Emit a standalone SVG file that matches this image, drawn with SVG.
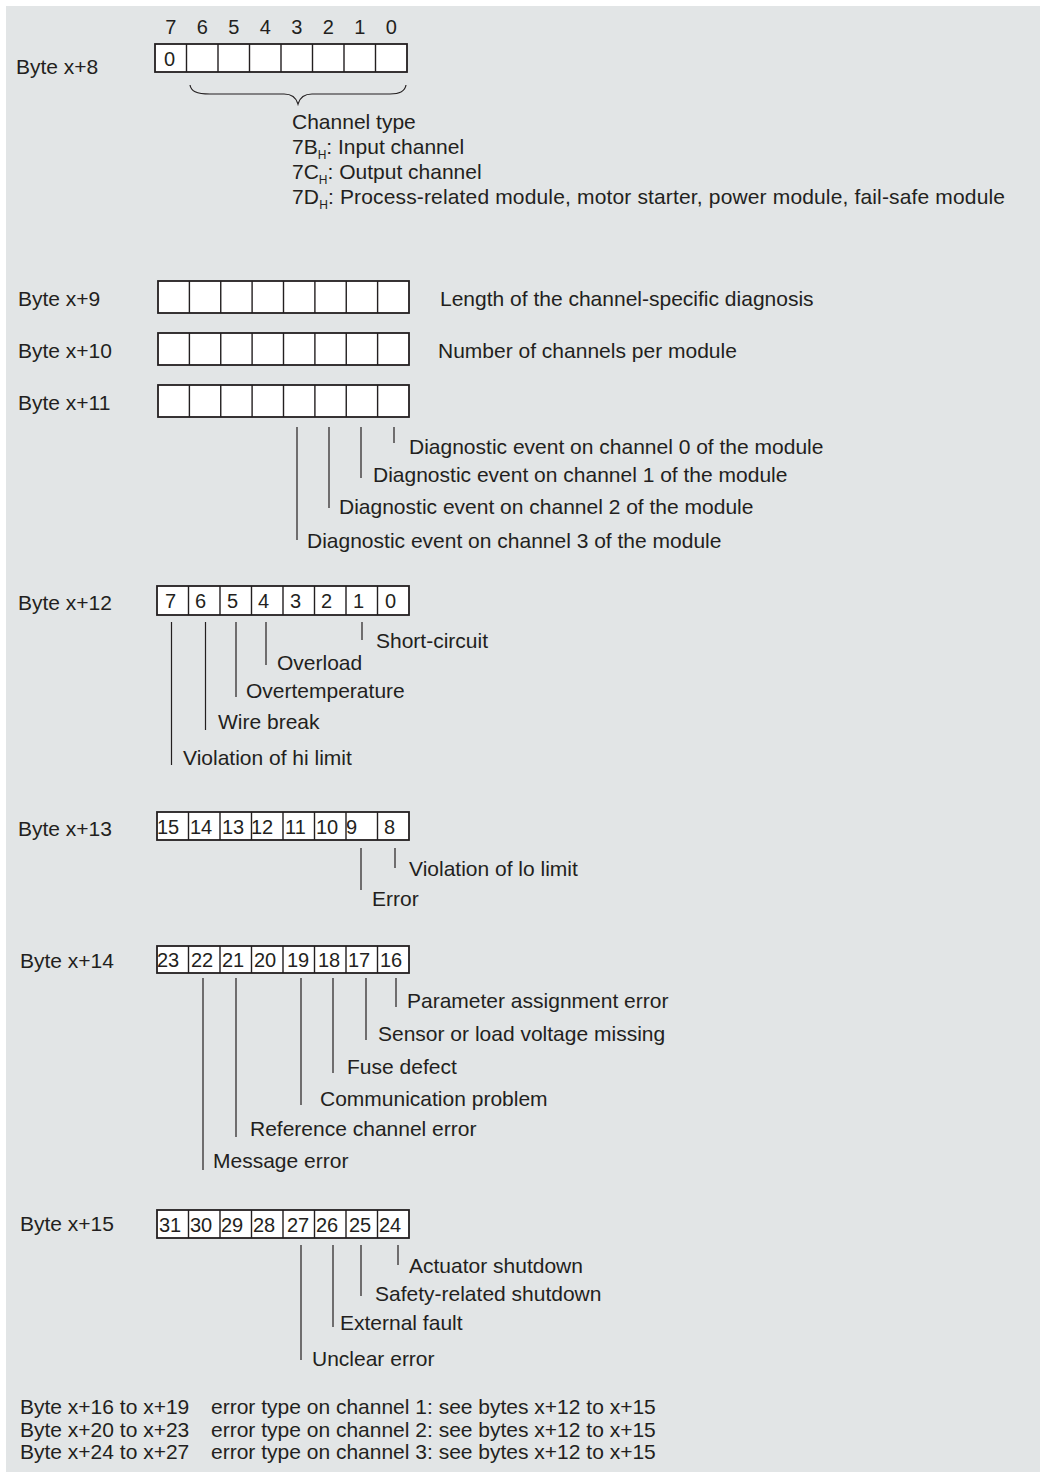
<svg xmlns="http://www.w3.org/2000/svg" width="1040" height="1472" viewBox="0 0 1040 1472">
  <style>
    text { font-family: "Liberation Sans", Arial, sans-serif; font-size: 21px; fill: #231f20; }
    .num { font-size: 20px; }
    .sub { font-size: 12px; }
    .cell { fill: #ffffff; stroke: #231f20; stroke-width: 1.8; }
    .div { fill: none; stroke: #231f20; stroke-width: 1.4; }
    .lead { fill: none; stroke: #231f20; stroke-width: 1.2; }
  </style>

  <!-- page -->
  <rect x="0" y="0" width="1040" height="1472" fill="#ffffff"/>
  <rect x="6" y="6" width="1034" height="1466" fill="#e2e5e6"/>

  <!-- Byte x+8 : channel type -->
  <g id="byte-x8">
    <text x="16" y="74">Byte x+8</text>
    <g class="num" text-anchor="middle">
      <text class="num" x="170.75" y="34">7</text>
      <text class="num" x="202.25" y="34">6</text>
      <text class="num" x="233.75" y="34">5</text>
      <text class="num" x="265.25" y="34">4</text>
      <text class="num" x="296.75" y="34">3</text>
      <text class="num" x="328.25" y="34">2</text>
      <text class="num" x="359.75" y="34">1</text>
      <text class="num" x="391.25" y="34">0</text>
    </g>
    <rect class="cell" x="155" y="44" width="252" height="28"/>
    <path class="div" d="M186.5 44v28M218 44v28M249.5 44v28M281 44v28M312.5 44v28M344 44v28M375.5 44v28"/>
    <text class="num" x="164" y="66">0</text>
    <text x="292" y="129">Channel type</text>
    <text x="292" y="154">7B<tspan class="sub" dy="5">H</tspan><tspan dy="-5">: Input channel</tspan></text>
    <text x="292" y="179">7C<tspan class="sub" dy="5">H</tspan><tspan dy="-5">: Output channel</tspan></text>
    <text x="292" y="204" textLength="713" lengthAdjust="spacing">7D<tspan class="sub" dy="5">H</tspan><tspan dy="-5">: Process-related module, motor starter, power module, fail-safe module</tspan></text>
  </g>

  <!-- Byte x+9 -->
  <g id="byte-x9">
    <text x="18" y="306">Byte x+9</text>
    <rect class="cell" x="158" y="281" width="251" height="32"/>
    <path class="div" d="M189.4 281v32M220.75 281v32M252.1 281v32M283.5 281v32M314.9 281v32M346.25 281v32M377.6 281v32"/>
    <text x="440" y="306">Length of the channel-specific diagnosis</text>
  </g>

  <!-- Byte x+10 -->
  <g id="byte-x10">
    <text x="18" y="358">Byte x+10</text>
    <rect class="cell" x="158" y="333" width="251" height="32"/>
    <path class="div" d="M189.4 333v32M220.75 333v32M252.1 333v32M283.5 333v32M314.9 333v32M346.25 333v32M377.6 333v32"/>
    <text x="438" y="358">Number of channels per module</text>
  </g>

  <!-- Byte x+11 -->
  <g id="byte-x11">
    <text x="18" y="410">Byte x+11</text>
    <rect class="cell" x="158" y="385" width="251" height="32"/>
    <path class="div" d="M189.4 385v32M220.75 385v32M252.1 385v32M283.5 385v32M314.9 385v32M346.25 385v32M377.6 385v32"/>
    <text x="409" y="454">Diagnostic event on channel 0 of the module</text>
    <text x="373" y="482">Diagnostic event on channel 1 of the module</text>
    <text x="339" y="514">Diagnostic event on channel 2 of the module</text>
    <text x="307" y="548">Diagnostic event on channel 3 of the module</text>
  </g>

  <!-- Byte x+12 -->
  <g id="byte-x12">
    <text x="18" y="610">Byte x+12</text>
    <rect class="cell" x="157" y="586" width="252" height="29"/>
    <path class="div" d="M188.5 586v29M220 586v29M251.5 586v29M283 586v29M314.5 586v29M346 586v29M377.5 586v29"/>
    <g class="num">
      <text class="num" x="165" y="608">7</text>
      <text class="num" x="195" y="608">6</text>
      <text class="num" x="227" y="608">5</text>
      <text class="num" x="258" y="608">4</text>
      <text class="num" x="290" y="608">3</text>
      <text class="num" x="321" y="608">2</text>
      <text class="num" x="353" y="608">1</text>
      <text class="num" x="385" y="608">0</text>
    </g>
    <text x="376" y="648">Short-circuit</text>
    <text x="277" y="670">Overload</text>
    <text x="246" y="698">Overtemperature</text>
    <text x="218" y="729">Wire break</text>
    <text x="183" y="765">Violation of hi limit</text>
  </g>

  <!-- Byte x+13 -->
  <g id="byte-x13">
    <text x="18" y="836">Byte x+13</text>
    <rect class="cell" x="157" y="812" width="252" height="28"/>
    <path class="div" d="M188.5 812v28M220 812v28M251.5 812v28M283 812v28M314.5 812v28M346 812v28M377.5 812v28"/>
    <g class="num">
      <text class="num" x="157" y="834">15</text>
      <text class="num" x="190" y="834">14</text>
      <text class="num" x="222" y="834">13</text>
      <text class="num" x="251" y="834">12</text>
      <text class="num" x="285" y="834">11</text>
      <text class="num" x="316" y="834">10</text>
      <text class="num" x="346" y="834">9</text>
      <text class="num" x="384" y="834">8</text>
    </g>
    <text x="409" y="876">Violation of lo limit</text>
    <text x="372" y="906">Error</text>
  </g>

  <!-- Byte x+14 -->
  <g id="byte-x14">
    <text x="20" y="968">Byte x+14</text>
    <rect class="cell" x="157" y="946" width="252" height="27"/>
    <path class="div" d="M188.5 946v27M220 946v27M251.5 946v27M283 946v27M314.5 946v27M346 946v27M377.5 946v27"/>
    <g class="num">
      <text class="num" x="157" y="967">23</text>
      <text class="num" x="191" y="967">22</text>
      <text class="num" x="222" y="967">21</text>
      <text class="num" x="254" y="967">20</text>
      <text class="num" x="287" y="967">19</text>
      <text class="num" x="318" y="967">18</text>
      <text class="num" x="348" y="967">17</text>
      <text class="num" x="380" y="967">16</text>
    </g>
    <text x="407" y="1008">Parameter assignment error</text>
    <text x="378" y="1041">Sensor or load voltage missing</text>
    <text x="347" y="1074">Fuse defect</text>
    <text x="320" y="1106">Communication problem</text>
    <text x="250" y="1136">Reference channel error</text>
    <text x="213" y="1168">Message error</text>
  </g>

  <!-- Byte x+15 -->
  <g id="byte-x15">
    <text x="20" y="1231">Byte x+15</text>
    <rect class="cell" x="157" y="1210" width="252" height="28"/>
    <path class="div" d="M188.5 1210v28M220 1210v28M251.5 1210v28M283 1210v28M314.5 1210v28M346 1210v28M377.5 1210v28"/>
    <g class="num">
      <text class="num" x="159" y="1232">31</text>
      <text class="num" x="190" y="1232">30</text>
      <text class="num" x="221" y="1232">29</text>
      <text class="num" x="253" y="1232">28</text>
      <text class="num" x="287" y="1232">27</text>
      <text class="num" x="316" y="1232">26</text>
      <text class="num" x="349" y="1232">25</text>
      <text class="num" x="379" y="1232">24</text>
    </g>
    <text x="409" y="1273">Actuator shutdown</text>
    <text x="375" y="1301">Safety-related shutdown</text>
    <text x="340" y="1330">External fault</text>
    <text x="312" y="1366">Unclear error</text>
  </g>

  <!-- Bytes x+16 ... x+27 -->
  <g id="byte-x16-x27">
    <text x="20" y="1414">Byte x+16 to x+19</text>
    <text x="211" y="1414">error type on channel 1: see bytes x+12 to x+15</text>
    <text x="20" y="1437">Byte x+20 to x+23</text>
    <text x="211" y="1437">error type on channel 2: see bytes x+12 to x+15</text>
    <text x="20" y="1459">Byte x+24 to x+27</text>
    <text x="211" y="1459">error type on channel 3: see bytes x+12 to x+15</text>
  </g>

  <!-- brace and leader lines -->
  <g id="connectors">
    <path class="lead" d="M190 85C191 91 196 94 210 94L284 94C292 94 296 97 298 104C300 97 304 94 312 94L390 94C400 94 405 91 406 85"/>
    <path class="lead" d="M297 427V540M329 427V508M361 427V478M394 427V443"/>
    <path class="lead" d="M171.5 622V765M205.5 622V730M236 622V697M266 622V665M362 622V640"/>
    <path class="lead" d="M361 848V890M395 848V868"/>
    <path class="lead" d="M203 978V1170M236 978V1137M301 978V1105M333 978V1073M366 978V1040M396 978V1007"/>
    <path class="lead" d="M301 1245V1360M333 1245V1327M361 1245V1296M398 1245V1265"/>
  </g>
</svg>
